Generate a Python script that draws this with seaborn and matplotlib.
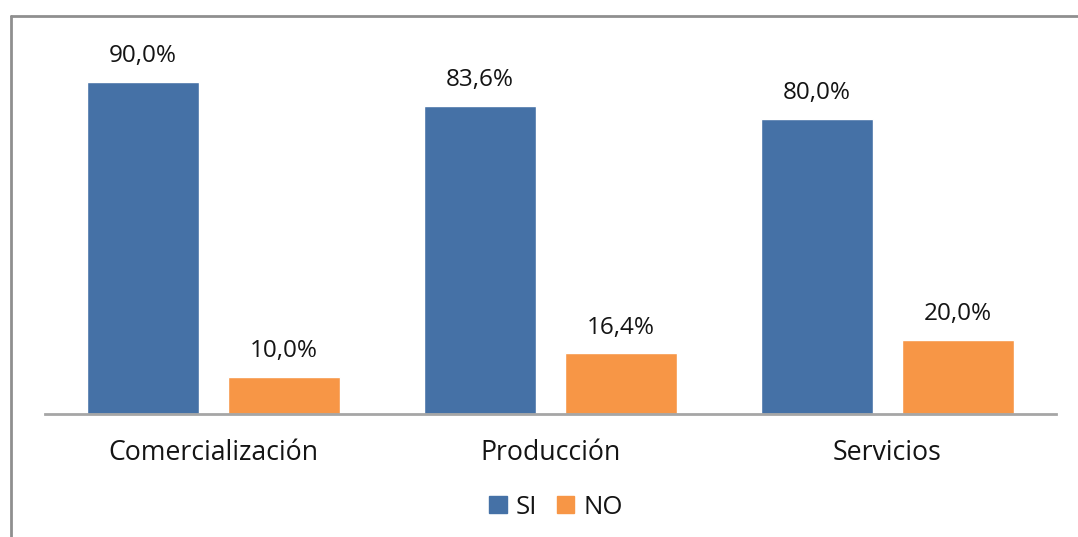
import matplotlib
matplotlib.use("Agg")
import matplotlib.pyplot as plt
from matplotlib.lines import Line2D
import seaborn as sns
import pandas as pd

# Survey results by business sector
categories = ["Comercialización", "Producción", "Servicios"]
answers = ["SI", "NO"]
si_values = [90.0, 83.6, 80.0]
no_values = [10.0, 16.4, 20.0]
colors = {"SI": "#4571A6", "NO": "#F79646"}

df = pd.DataFrame({
    "sector": categories * 2,
    "respuesta": ["SI"] * len(categories) + ["NO"] * len(categories),
    "valor": si_values + no_values,
})

sns.set_theme(style="white")
plt.rcParams["font.family"] = ["Open Sans", "DejaVu Sans"]

W, H = 1078, 537
fig = plt.figure(figsize=(W / 100, H / 100), dpi=100)
ax = fig.add_axes([45 / W, 123 / H, (1056 - 45) / W, 369 / H])

sns.barplot(data=df, x="sector", y="valor", hue="respuesta",
            order=categories, hue_order=answers, palette=colors,
            width=0.837, gap=0.2, saturation=1, legend=False, ax=ax)

ax.set_xlim(-0.5, 2.5)
ax.set_ylim(0, 100)
ax.set_xlabel("")
ax.set_ylabel("")
ax.set_yticks([])
for side in ["left", "right", "top"]:
    ax.spines[side].set_visible(False)
ax.spines["bottom"].set_color("#a6a6a6")
ax.spines["bottom"].set_linewidth(2)
ax.tick_params(axis="x", length=0, pad=18, labelsize=19.2, labelcolor="#141414")

for container in ax.containers:
    labels = [f"{b.get_height():.1f}".replace(".", ",") + "%" for b in container]
    ax.bar_label(container, labels=labels, padding=10, fontsize=17.5,
                 color="#141414")

# Legend below the plot
handles = [plt.Rectangle((0, 0), 1, 1, color=colors[a]) for a in answers]
fig.legend(handles, answers, loc="center", bbox_to_anchor=(556 / W, 30 / H),
           ncol=2, frameon=False, fontsize=18.5, handlelength=0.68,
           handleheight=0.6, handletextpad=0.35, columnspacing=0.75,
           labelcolor="#141414")

# Chart frame (left and top edges)
frame_kw = dict(color="#8f8f8f", linewidth=2, transform=fig.transFigure)
fig.add_artist(Line2D([10.5 / W, 10.5 / W], [0, 1 - 15.5 / H], **frame_kw))
fig.add_artist(Line2D([10.5 / W, 1], [1 - 15.5 / H, 1 - 15.5 / H], **frame_kw))

fig.savefig("out.png", dpi=100)
